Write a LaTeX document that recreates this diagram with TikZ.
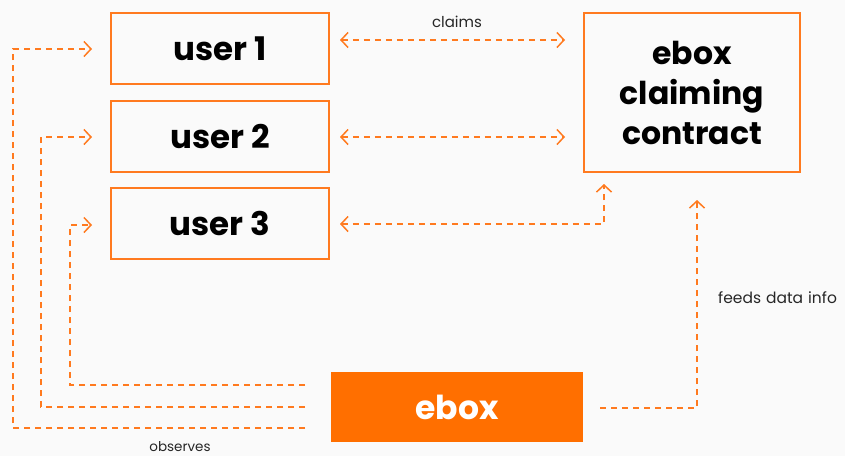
\documentclass[tikz,border=0pt]{standalone}
\usepackage{fontspec}
\setmainfont{Poppins}
\usetikzlibrary{arrows.meta}
\definecolor{org}{HTML}{FF7A1F}
\definecolor{orgfill}{HTML}{FF6F00}
\definecolor{bg}{HTML}{FAFAFA}
\tikzset{
  box/.style={draw=org, line width=1.6pt, minimum width=218pt, minimum height=71pt, inner sep=0pt, font=\fontsize{32.5}{36}\selectfont\bfseries, text=black},
  dl/.style={draw=org, line width=1.5pt, dash pattern=on 6pt off 5pt, arrows={-}},
  tip/.style={-{Straight Barb[length=7pt,width=15pt,line width=1.5pt]}},
  tips/.style={{Straight Barb[length=7pt,width=15pt,line width=1.5pt]}-{Straight Barb[length=7pt,width=15pt,line width=1.5pt]}},
  lbl/.style={text=black!85, inner sep=0pt}
}
\begin{document}
\begin{tikzpicture}[x=1pt,y=-1pt]
\fill[bg] (0,0) rectangle (845,456);
\useasboundingbox (0,0) rectangle (845,456);
\node[box] (u1) at (220,48.5) {user 1};
\node[box] (u2) at (220,136.5) {user 2};
\node[box] (u3) at (220,223.5) {user 3};
\node[box, minimum width=216pt, minimum height=159pt, align=center, font=\fontsize{31.5}{40}\selectfont\bfseries] (ct) at (692,92.5) {ebox\\claiming\\contract};
\node[fill=orgfill, minimum width=252pt, minimum height=70pt, inner sep=0pt, text=white, font=\fontsize{33}{36}\selectfont\bfseries] (eb) at (457,407) {ebox};
% claims connectors
\coordinate (a1) at (340,40); \coordinate (b1) at (565,40);
\coordinate (a2) at (340,137); \coordinate (b2) at (565,137);
\coordinate (a3) at (340,224); \coordinate (b3) at (604,184);
\draw[dl,tips] (a1) -- (b1);
\draw[dl,tips] (a2) -- (b2);
\draw[dl,tips] (a3) -| (b3);
\node[lbl, font=\fontsize{15}{17}\selectfont] (lc) at (457,22) {claims};
% observes connectors
\coordinate (e1) at (305,428); \coordinate (e2) at (305,407); \coordinate (e3) at (305,385);
\coordinate (k1) at (13,49); \coordinate (k2) at (41,137); \coordinate (k3) at (70,225);
\coordinate (t1) at (92,49); \coordinate (t2) at (92,137); \coordinate (t3) at (92,225);
\draw[dl,tip] (e1) -| (k1) -- (t1);
\draw[dl,tip] (e2) -| (k2) -- (t2);
\draw[dl,tip] (e3) -| (k3) -- (t3);
\node[lbl, font=\fontsize{13.5}{15}\selectfont] (lo) at (180,446.5) {observes};
% feeds
\coordinate (f1) at (600,408); \coordinate (f2) at (697,200);
\draw[dl,tip] (f1) -| (f2);
\node[lbl, anchor=west, font=\fontsize{15.5}{17}\selectfont] (lf) at (718,298) {\spaceskip=5pt plus 1pt\relax feeds data info};
\end{tikzpicture}
\end{document}
